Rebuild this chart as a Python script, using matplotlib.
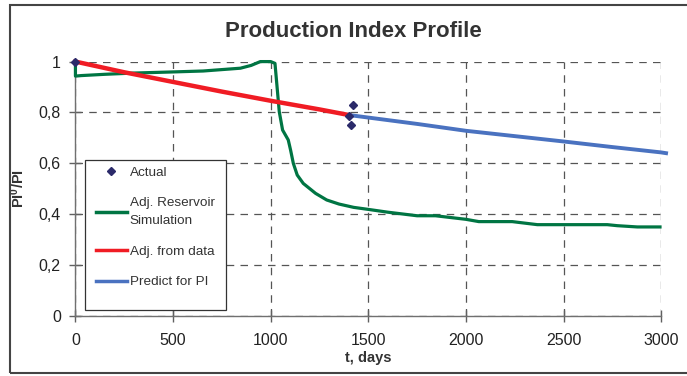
import matplotlib
matplotlib.use("Agg")
import matplotlib.pyplot as plt
from matplotlib.lines import Line2D
from matplotlib.patches import Rectangle

plt.rcParams['font.family'] = ['Liberation Sans', 'DejaVu Sans']
plt.rcParams['mathtext.fontset'] = 'custom'
plt.rcParams['mathtext.rm'] = 'Liberation Sans'
plt.rcParams['mathtext.bf'] = 'Liberation Sans:bold'

# ---- data ----
t_actual = [0, 1400, 1410, 1422]
v_actual = [1.0, 0.788, 0.75, 0.829]

t_sim = [0, 0, 30, 150, 300, 485, 654, 845, 900, 947, 1000, 1022, 1044, 1061,
         1090, 1102, 1116, 1136, 1167, 1230, 1287, 1350, 1425, 1500, 1600,
         1750, 1844, 2000, 2066, 2237, 2366, 2724, 2775, 2878, 2994]
v_sim = [1.0, 0.943, 0.945, 0.95, 0.955, 0.959, 0.963, 0.974, 0.985, 1.0, 1.0,
         0.993, 0.803, 0.731, 0.692, 0.652, 0.6, 0.554, 0.521, 0.482, 0.456,
         0.44, 0.427, 0.419, 0.408, 0.394, 0.394, 0.38, 0.371, 0.371, 0.359,
         0.359, 0.355, 0.35, 0.35]

t_fit = [0, 250, 500, 750, 1000, 1250, 1400]
v_fit = [1.0, 0.958, 0.92, 0.882, 0.846, 0.812, 0.79]

t_pred = [1400, 1750, 2000, 2250, 2500, 2750, 3000, 3025]
v_pred = [0.79, 0.755, 0.728, 0.707, 0.686, 0.664, 0.643, 0.640]

x_ticks = [0, 500, 1000, 1500, 2000, 2500, 3000]
y_ticks = [0, 0.2, 0.4, 0.6, 0.8, 1.0]
y_tick_labels = ['0', '0,2', '0,4', '0,6', '0,8', '1']

c_green = '#007543'
c_red = '#f01c24'
c_blue = '#4a72c0'
c_navy = '#2b2a6a'

fig = plt.figure(figsize=(6.87, 3.76), dpi=100)
ax = fig.add_axes([0.1098, 0.1596, 0.8526, 0.6766])

ax.plot(t_sim, v_sim, color=c_green, lw=2.3, zorder=3, solid_joinstyle='round',
        clip_on=False)
ax.plot(t_pred, v_pred, color=c_blue, lw=2.8, zorder=4, clip_on=False)
ax.plot(t_fit, v_fit, color=c_red, lw=3.2, zorder=5, clip_on=False)
ax.plot(t_actual, v_actual, ls='none', marker='D', ms=4.5, color=c_navy,
        zorder=6, clip_on=False)

ax.set_xlim(0, 3000)
ax.set_ylim(0, 1)
ax.set_xticks(x_ticks)
ax.set_yticks(y_ticks)
ax.set_yticklabels(y_tick_labels)
ax.tick_params(axis='both', labelsize=11.5, colors='#606060', direction='inout',
               length=9, width=1, labelcolor='#222222')
ax.tick_params(axis='x', pad=8)
ax.tick_params(axis='y', pad=6)

ax.grid(True, color='#555555', ls=(0, (6, 5)), lw=0.9)
for s in ['top', 'right']:
    ax.spines[s].set_visible(False)
for s in ['left', 'bottom']:
    ax.spines[s].set_color('#707070')
    ax.spines[s].set_linewidth(1.0)

ax.set_xlabel('t, days', fontsize=10.5, fontweight='bold', color='#333333', labelpad=2)
ax.set_ylabel(r'$\mathbf{PI^{0}/PI}$', fontsize=10.5, color='#333333')
ax.yaxis.set_label_coords(-0.083, 0.5)

fig.text(0.514, 0.917, 'Production Index Profile', ha='center', va='center',
         fontsize=16, fontweight='bold', color='#333333')

# legend box
ax.add_patch(Rectangle((0.0157, 0.0216), 0.2413, 0.5914, transform=ax.transAxes,
                       facecolor='white', edgecolor='#333333', lw=0.9, zorder=7,
                       clip_on=False))

handles = [
    Line2D([], [], ls='none', marker='D', ms=4, color=c_navy),
    Line2D([], [], color=c_green, lw=2.5),
    Line2D([], [], color=c_red, lw=2.5),
    Line2D([], [], color=c_blue, lw=2.5),
]
labels = ['Actual', 'Adj. Reservoir\nSimulation', 'Adj. from data', 'Predict for PI']
leg = ax.legend(handles, labels, loc='upper left', bbox_to_anchor=(0.024, 0.613),
                borderaxespad=0, fontsize=9.7, frameon=False, labelspacing=1.35,
                handlelength=2.35, handletextpad=0.2, borderpad=0.45, numpoints=1)
leg.set_zorder(8)
for txt in leg.get_texts():
    txt.set_color('#333333')
    txt.set_linespacing(1.7)

fig.patches.append(Rectangle((0.0145, 0.008), 0.99, 0.978, transform=fig.transFigure,
                             fill=False, edgecolor='#444444', lw=1.5))

fig.savefig('out.png', dpi=100)
